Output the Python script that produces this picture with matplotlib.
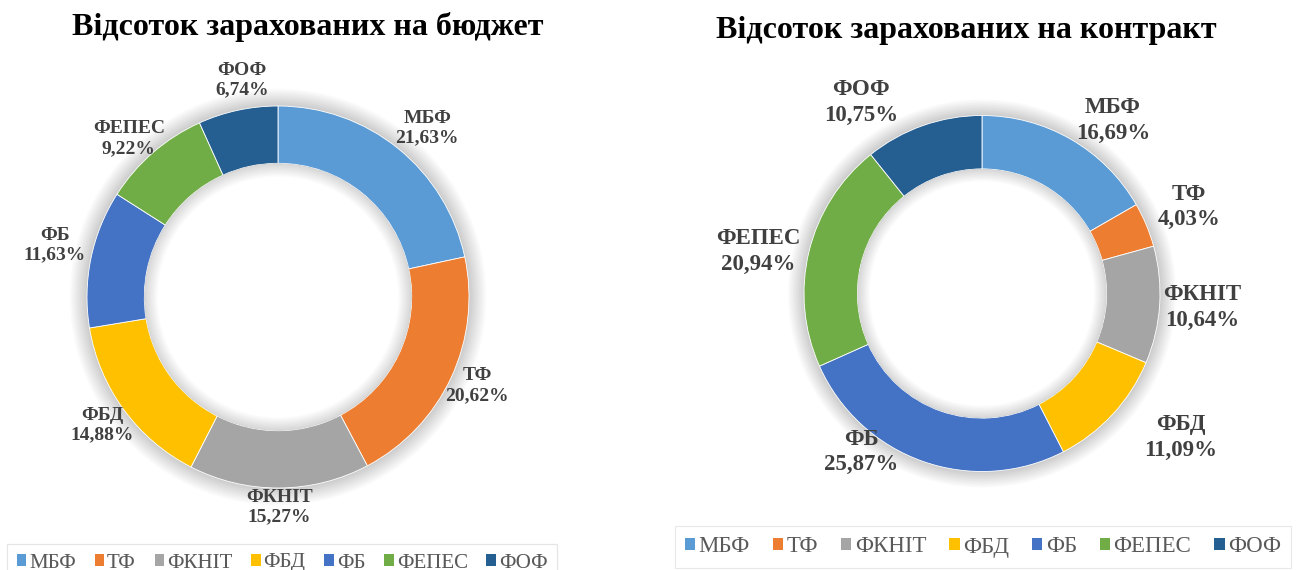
import numpy as np
import matplotlib
matplotlib.use("Agg")
import matplotlib.pyplot as plt
from matplotlib.patches import Patch, Wedge

# ---- data ----
categories = ["МБФ", "ТФ", "ФКНІТ", "ФБД", "ФБ", "ФЕПЕС", "ФОФ"]
budget_pct = [21.63, 20.62, 15.27, 14.88, 11.63, 9.22, 6.74]
contract_pct = [16.69, 4.03, 10.64, 11.09, 25.87, 20.94, 10.75]
title_budget = "Відсоток зарахованих на бюджет"
title_contract = "Відсоток зарахованих на контракт"

colors = ["#5B9BD5", "#ED7D31", "#A5A5A5", "#FFC000", "#4472C4", "#70AD47", "#255E91"]

# ---- label layout (radius in ring radii, angular nudge in degrees) ----
budget_label_r = [1.18, 1.14, 1.10, 1.14, 1.20, 1.14, 1.15]
budget_label_dth = [-2.5, 1.0, 0.0, 0.0, -1.5, 2.4, -2.7]
contract_label_r = [1.22, 1.26, 1.24, 1.38, 1.12, 1.28, 1.27]
contract_label_dth = [-7.0, 0.0, 0.0, 7.0, -18.0, 3.0, 13.0]

plt.rcParams['font.family'] = ['Liberation Serif', 'DejaVu Serif']

W, H = 1299, 570
fig = plt.figure(figsize=(W / 100, H / 100), dpi=100)
fig.patch.set_facecolor("white")


def add_donut(cx, cy, R, values, label_r, label_dth, label_fs, linesp):
    L = 1.4
    size = 2 * L * R
    ax = fig.add_axes([(cx - size / 2) / W, (H - cy - size / 2) / H, size / W, size / H])
    # soft shadow / glow
    for i in range(10):
        ax.add_patch(Wedge((0, 0), 1.0 + 0.009 * (i + 1), 0, 360, width=0.009 * (i + 1) + 0.01,
                           facecolor="#000000", alpha=0.018, edgecolor="none", zorder=0))
        ax.add_patch(Wedge((0, 0), 0.70, 0, 360, width=0.007 * (i + 1),
                           facecolor="#000000", alpha=0.014, edgecolor="none", zorder=3))
    wedges, _ = ax.pie(values, colors=colors, startangle=90, counterclock=False, radius=1.0,
                       wedgeprops=dict(width=0.30, edgecolor="white", linewidth=0.6))
    for w in wedges:
        w.set_zorder(2)
    for w, name, v, r, dth in zip(wedges, categories, values, label_r, label_dth):
        th = np.deg2rad((w.theta1 + w.theta2) / 2 + dth)
        ax.text(r * np.cos(th), r * np.sin(th),
                f"{name}\n{v:.2f}%".replace(".", ","), ha="center", va="center",
                fontsize=label_fs, fontweight="bold", color="#404040",
                linespacing=linesp, zorder=5)
    ax.set_xlim(-L, L)
    ax.set_ylim(-L, L)
    ax.set_aspect("equal")
    ax.axis("off")
    return ax


add_donut(278, 297, 191, budget_pct, budget_label_r, budget_label_dth, 14, 1.2)
add_donut(982, 293.5, 178, contract_pct, contract_label_r, contract_label_dth, 16.5, 1.3)

fig.text(307.5 / W, 1 - 35 / H, title_budget, ha="center", va="baseline",
         fontsize=23, fontweight="bold", color="black")
fig.text(966 / W, 1 - 38 / H, title_contract, ha="center", va="baseline",
         fontsize=23, fontweight="bold", color="black")

handles = [Patch(facecolor=c, edgecolor="none") for c in colors]


def add_legend(cx, cy, fs, colsp):
    leg = fig.legend(handles, categories, loc="center", ncol=7,
                     bbox_to_anchor=(cx / W, 1 - cy / H), fontsize=fs,
                     handlelength=0.45, handleheight=0.45, handletextpad=0.15,
                     columnspacing=colsp, frameon=True, fancybox=False,
                     edgecolor="#E3E3E3", borderpad=0.45)
    leg.get_frame().set_linewidth(0.8)
    for t in leg.get_texts():
        t.set_color("#595959")
    return leg


l1 = add_legend(282, 563, 15, 0.9)
fig.add_artist(l1)
add_legend(983, 547, 16.5, 1.0)

fig.savefig("out.png", dpi=100, facecolor="white")
